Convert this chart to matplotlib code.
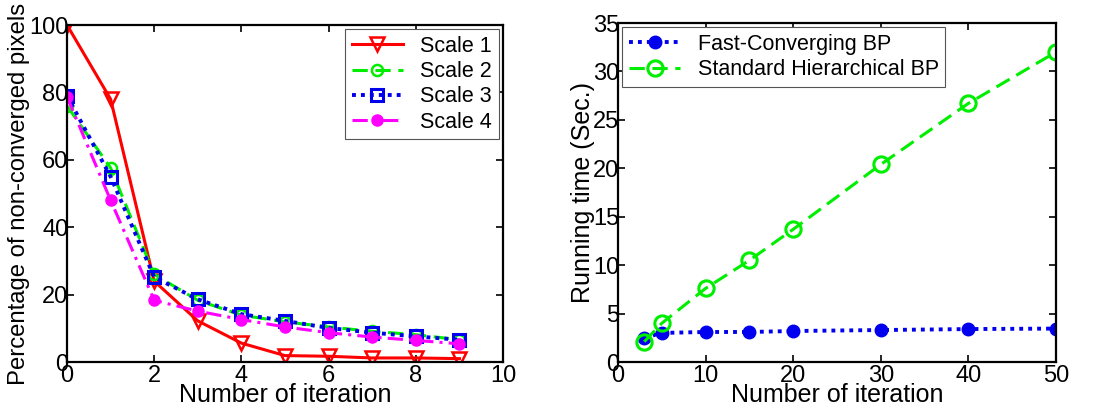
import matplotlib
matplotlib.use("Agg")
import matplotlib.pyplot as plt

plt.rcParams['font.family'] = ['Liberation Sans', 'DejaVu Sans']

# Left panel data
iters = [0, 1, 2, 3, 4, 5, 6, 7, 8, 9]
scale1 = [100, 78, 24, 12.2, 5.6, 1.9, 1.7, 1.2, 1.2, 1.0]
scale2 = [76, 57.6, 26, 18.3, 13.9, 11.9, 10.4, 9.1, 8.1, 6.6]
scale3 = [79, 55, 25.2, 18.6, 14.2, 12.2, 10.1, 8.7, 7.6, 6.6]
scale4 = [78.7, 48, 18.3, 15.1, 12.6, 10.4, 8.7, 7.4, 6.4, 5.4]

# Right panel data
iters_r = [3, 5, 10, 15, 20, 30, 40, 50]
fast_bp = [2.5, 3.0, 3.1, 3.1, 3.2, 3.3, 3.4, 3.45]
std_bp = [2.1, 4.0, 7.6, 10.5, 13.7, 20.4, 26.7, 32.0]

fig = plt.figure(figsize=(10.98, 4.11), dpi=100)
ax1 = fig.add_axes([67/1098, 49/411, 436/1098, 337/411])
ax2 = fig.add_axes([618/1098, 49/411, 438/1098, 339/411])

lw = 2.2
ax1.plot(iters, scale1, color='#ff0000', linestyle='-', linewidth=lw, marker='v',
         markersize=10, markerfacecolor='none', markeredgewidth=1.8, label='Scale 1')
ax1.plot(iters, scale2, color='#00ee00', linestyle=(0, (5, 2.5)), linewidth=lw, marker='o',
         markersize=8, markerfacecolor='none', markeredgewidth=1.8, label='Scale 2')
ax1.plot(iters, scale3, color='#0000ee', linestyle=(0, (1, 1.3)), linewidth=lw + 0.6, marker='s',
         markersize=8, markerfacecolor='none', markeredgewidth=2.2, label='Scale 3')
ax1.plot(iters, scale4, color='#ff00ff', linestyle=(0, (5, 2, 1, 2)), linewidth=lw, marker='o',
         markersize=8, markerfacecolor='#ff00ff', markeredgecolor='#ff00ff', label='Scale 4')

ax1.set_xlim(0, 10)
ax1.set_ylim(0, 100)
ax1.set_xticks([0, 2, 4, 6, 8, 10])
ax1.set_yticks([0, 20, 40, 60, 80, 100])
ax1.set_xlabel('Number of iteration', fontsize=18, labelpad=-3)
ax1.set_ylabel('Percentage of non-converged pixels', fontsize=17.2, labelpad=-1)
leg1 = ax1.legend(loc='upper right', fontsize=15.5, fancybox=False, edgecolor='#555555',
                  handlelength=2.4, borderaxespad=0.2, labelspacing=0.2, framealpha=1,
                  borderpad=0.3)
leg1.get_frame().set_linewidth(0.8)

ax2.plot(iters_r, fast_bp, color='#0000ee', linestyle=(0, (1, 1.3)), linewidth=lw + 0.6, marker='o',
         markersize=9, markerfacecolor='#0000ee', label='Fast-Converging BP')
ax2.plot(iters_r, std_bp, color='#00ee00', linestyle=(0, (5, 2.5)), linewidth=lw, marker='o',
         markersize=11, markerfacecolor='none', markeredgewidth=2.2, label='Standard Hierarchical BP')
ax2.set_xlim(0, 50)
ax2.set_ylim(0, 35)
ax2.set_xticks([0, 10, 20, 30, 40, 50])
ax2.set_yticks([0, 5, 10, 15, 20, 25, 30, 35])
ax2.set_xlabel('Number of iteration', fontsize=18, labelpad=-3)
ax2.set_ylabel('Running time (Sec.)', fontsize=18, labelpad=-1)
leg2 = ax2.legend(loc='upper left', fontsize=15.5, fancybox=False, edgecolor='#555555',
                  handlelength=2.4, borderaxespad=0.2, labelspacing=0.2, framealpha=1,
                  borderpad=0.3)
leg2.get_frame().set_linewidth(0.8)

for ax in (ax1, ax2):
    for s in ax.spines.values():
        s.set_linewidth(1.6)
        s.set_color('black')
    ax.tick_params(direction='in', length=5, width=1.2, labelsize=17,
                   top=True, right=True)
    ax.tick_params(axis='x', pad=2)
    ax.tick_params(axis='y', pad=-1)

fig.savefig('out.png', dpi=100)
